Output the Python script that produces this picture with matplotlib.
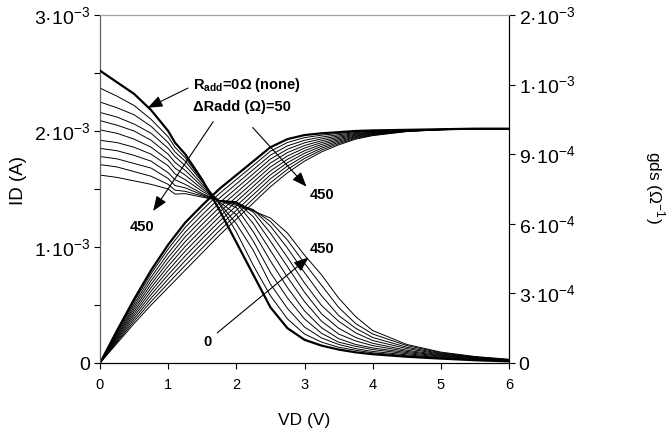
"""
ID and gds versus VD for increasing added series resistance.
"""

import matplotlib
matplotlib.use('Agg')
import matplotlib.pyplot as plt

plt.rcParams['font.family'] = ['Liberation Sans', 'DejaVu Sans']
plt.rcParams['mathtext.fontset'] = 'custom'
plt.rcParams['mathtext.rm'] = 'Liberation Sans'
plt.rcParams['mathtext.bf'] = 'Liberation Sans:bold'

# Drain voltage grid (V) for the ID curves
vd = [0, 0.25, 0.5, 0.75, 1.0, 1.25, 1.5, 1.75, 2.0, 2.25, 2.5, 2.75,
      3.0, 3.25, 3.5, 3.75, 4.0, 4.5, 5.0, 5.5, 6.0]
# gds curves have an extra point at 1.1 V (small kink in the data)
vd_gds = [0, 0.25, 0.5, 0.75, 1.0, 1.1, 1.25, 1.5, 1.75, 2.0, 2.25, 2.5, 2.75,
          3.0, 3.25, 3.5, 3.75, 4.0, 4.5, 5.0, 5.5, 6.0]

# Added resistance (Ohm), 0 = none (thick curve)
radd = [0, 50, 100, 150, 200, 250, 300, 350, 400, 450, 500]

# Drain current ID (mA), one list per Radd
id_r0 = [0, 0.28, 0.55, 0.80, 1.02, 1.21, 1.36, 1.50, 1.62, 1.74, 1.86, 1.93, 1.965, 1.98, 1.99, 2.0, 2.005, 2.01, 2.015, 2.02, 2.02]
id_r50 = [0, 0.269, 0.529, 0.77, 0.983, 1.169, 1.319, 1.46, 1.582, 1.704, 1.826, 1.901, 1.943, 1.964, 1.979, 1.993, 2.0, 2.008, 2.015, 2.02, 2.02]
id_r100 = [0, 0.258, 0.508, 0.74, 0.946, 1.128, 1.278, 1.42, 1.544, 1.668, 1.792, 1.872, 1.92, 1.948, 1.968, 1.986, 1.996, 2.007, 2.014, 2.02, 2.02]
id_r150 = [0, 0.247, 0.487, 0.71, 0.909, 1.087, 1.237, 1.38, 1.506, 1.632, 1.758, 1.843, 1.898, 1.932, 1.957, 1.979, 1.991, 2.005, 2.014, 2.019, 2.02]
id_r200 = [0, 0.236, 0.466, 0.68, 0.872, 1.046, 1.196, 1.34, 1.468, 1.596, 1.724, 1.814, 1.875, 1.916, 1.946, 1.972, 1.987, 2.004, 2.013, 2.019, 2.02]
id_r250 = [0, 0.225, 0.445, 0.65, 0.835, 1.005, 1.155, 1.30, 1.43, 1.56, 1.69, 1.785, 1.853, 1.90, 1.935, 1.965, 1.983, 2.003, 2.013, 2.019, 2.02]
id_r300 = [0, 0.214, 0.424, 0.62, 0.798, 0.964, 1.114, 1.26, 1.392, 1.524, 1.656, 1.756, 1.83, 1.884, 1.924, 1.958, 1.978, 2.001, 2.012, 2.018, 2.02]
id_r350 = [0, 0.203, 0.403, 0.59, 0.761, 0.923, 1.073, 1.22, 1.354, 1.488, 1.622, 1.727, 1.808, 1.868, 1.913, 1.951, 1.974, 2.0, 2.012, 2.018, 2.02]
id_r400 = [0, 0.192, 0.382, 0.56, 0.724, 0.882, 1.032, 1.18, 1.316, 1.452, 1.588, 1.698, 1.785, 1.852, 1.902, 1.944, 1.969, 1.998, 2.011, 2.018, 2.02]
id_r450 = [0, 0.181, 0.361, 0.53, 0.687, 0.841, 0.991, 1.14, 1.278, 1.416, 1.554, 1.669, 1.763, 1.836, 1.891, 1.937, 1.965, 1.997, 2.011, 2.018, 2.02]
id_r500 = [0, 0.17, 0.34, 0.50, 0.65, 0.80, 0.95, 1.10, 1.24, 1.38, 1.52, 1.64, 1.74, 1.82, 1.88, 1.93, 1.96, 1.995, 2.01, 2.018, 2.02]

# Output conductance gds (mS), one list per Radd
gds_r0 = [1.26, 1.21, 1.16, 1.09, 1.00, 0.95, 0.90, 0.79, 0.66, 0.52, 0.38, 0.24, 0.15, 0.10, 0.075, 0.058, 0.046, 0.038, 0.027, 0.019, 0.012, 0.007]
gds_r50 = [1.185, 1.15, 1.11, 1.05, 0.975, 0.93, 0.885, 0.785, 0.685, 0.565, 0.42, 0.29, 0.19, 0.125, 0.09, 0.068, 0.055, 0.044, 0.031, 0.021, 0.013, 0.008]
gds_r100 = [1.125, 1.10, 1.07, 1.02, 0.95, 0.91, 0.87, 0.78, 0.69, 0.60, 0.485, 0.34, 0.235, 0.155, 0.108, 0.08, 0.062, 0.05, 0.035, 0.023, 0.014, 0.008]
gds_r150 = [1.08, 1.06, 1.03, 0.99, 0.925, 0.89, 0.85, 0.77, 0.695, 0.64, 0.525, 0.39, 0.28, 0.19, 0.128, 0.09, 0.072, 0.058, 0.04, 0.026, 0.016, 0.009]
gds_r200 = [1.045, 1.025, 1.0, 0.96, 0.90, 0.865, 0.83, 0.76, 0.70, 0.67, 0.565, 0.44, 0.325, 0.225, 0.152, 0.105, 0.08, 0.065, 0.045, 0.029, 0.018, 0.01]
gds_r250 = [1.005, 0.99, 0.965, 0.93, 0.875, 0.84, 0.81, 0.75, 0.70, 0.69, 0.60, 0.485, 0.37, 0.265, 0.18, 0.125, 0.095, 0.075, 0.05, 0.032, 0.02, 0.011]
gds_r300 = [0.96, 0.95, 0.93, 0.90, 0.85, 0.815, 0.79, 0.74, 0.70, 0.695, 0.63, 0.525, 0.415, 0.305, 0.212, 0.15, 0.11, 0.085, 0.055, 0.035, 0.021, 0.012]
gds_r350 = [0.925, 0.915, 0.895, 0.87, 0.82, 0.79, 0.77, 0.73, 0.70, 0.695, 0.65, 0.56, 0.455, 0.345, 0.248, 0.18, 0.13, 0.097, 0.062, 0.038, 0.023, 0.013]
gds_r400 = [0.89, 0.88, 0.86, 0.84, 0.795, 0.765, 0.755, 0.725, 0.70, 0.69, 0.66, 0.59, 0.495, 0.39, 0.29, 0.205, 0.15, 0.11, 0.068, 0.041, 0.024, 0.014]
gds_r450 = [0.855, 0.845, 0.825, 0.805, 0.77, 0.745, 0.74, 0.72, 0.70, 0.685, 0.66, 0.61, 0.53, 0.43, 0.335, 0.24, 0.17, 0.125, 0.075, 0.044, 0.026, 0.015]
gds_r500 = [0.81, 0.80, 0.785, 0.77, 0.75, 0.728, 0.73, 0.715, 0.70, 0.68, 0.655, 0.625, 0.56, 0.465, 0.38, 0.28, 0.20, 0.14, 0.08, 0.047, 0.028, 0.016]

id_curves = [id_r0, id_r50, id_r100, id_r150, id_r200, id_r250,
             id_r300, id_r350, id_r400, id_r450, id_r500]
gds_curves = [gds_r0, gds_r50, gds_r100, gds_r150, gds_r200, gds_r250,
              gds_r300, gds_r350, gds_r400, gds_r450, gds_r500]

# Axis tick labels (Excel-style rounding on the right axis)
left_ticks = [0, 0.5e-3, 1e-3, 1.5e-3, 2e-3, 2.5e-3, 3e-3]
left_labels = ['0', '', r'$\mathregular{1·10^{-3}}$', '', r'$\mathregular{2·10^{-3}}$',
               '', r'$\mathregular{3·10^{-3}}$']
right_ticks = [0, 3e-4, 6e-4, 9e-4, 1.2e-3, 1.5e-3]
right_labels = ['0', r'$\mathregular{3·10^{-4}}$', r'$\mathregular{6·10^{-4}}$',
                r'$\mathregular{9·10^{-4}}$', r'$\mathregular{1·10^{-3}}$',
                r'$\mathregular{2·10^{-3}}$']

fig = plt.figure(figsize=(6.72, 4.33), dpi=100)
ax1 = fig.add_axes([100 / 672, 70 / 433, 409 / 672, 348 / 433])
ax2 = ax1.twinx()

for r, cur in zip(radd, id_curves):
    lw = 1.6 if r == 0 else 0.7
    ax1.plot(vd, [v * 1e-3 for v in cur], color='black', linewidth=lw, zorder=3 if r == 0 else 2)

for r, cur in zip(radd, gds_curves):
    lw = 1.6 if r == 0 else 0.7
    ax2.plot(vd_gds, [v * 1e-3 for v in cur], color='black', linewidth=lw, zorder=3 if r == 0 else 2)

ax1.set_xlim(0, 6)
ax1.set_ylim(0, 3e-3)
ax2.set_ylim(0, 1.5e-3)

ax1.set_xticks(range(7))
ax1.set_xticklabels([str(t) for t in range(7)], fontsize=10.5)
ax1.set_yticks(left_ticks)
ax1.set_yticklabels(left_labels, fontsize=14)
ax2.set_yticks(right_ticks)
ax2.set_yticklabels(right_labels, fontsize=14)

ax1.tick_params(axis='x', direction='out', length=4, width=0.8, pad=7)
ax1.tick_params(axis='y', direction='out', length=4, width=0.8, pad=3)
ax2.tick_params(axis='y', direction='out', length=4, width=0.8, pad=3)

for ax in (ax1, ax2):
    ax.spines['top'].set_color('#a0a0a0')
    ax.spines['left'].set_color('#606060')
    ax.spines['right'].set_color('black')
    ax.spines['bottom'].set_color('black')
    for s in ax.spines.values():
        s.set_linewidth(0.8)

ax1.set_xlabel('VD (V)', fontsize=12.5, va='center')
ax1.xaxis.set_label_coords(0.5, -0.164)
ax1.set_ylabel('ID (A)', fontsize=13.5, va='center')
ax1.yaxis.set_label_coords(-0.2, 0.525)
ax2.set_ylabel(r'gds (Ω$^{\mathregular{-1}}$)', fontsize=12.5, rotation=270, va='center')
ax2.yaxis.set_label_coords(1.357, 0.505)

# Annotations
bold = dict(fontsize=10.5, fontweight='bold', color='black')
arrow = dict(arrowstyle='-|>,head_length=0.9,head_width=0.35', color='black',
             lw=0.8, shrinkA=0, shrinkB=0)

ax1.text(1.36, 2.40e-3, r'$\mathbf{R}_{\mathbf{add}}$=0Ω (none)', va='center', ha='left', **bold)
ax1.text(1.36, 2.21e-3, 'ΔRadd (Ω)=50', va='center', ha='left', **bold)
ax1.annotate('', xy=(0.70, 2.20e-3), xytext=(1.29, 2.37e-3), arrowprops=arrow)
ax1.annotate('', xy=(0.78, 1.31e-3), xytext=(1.66, 2.08e-3), arrowprops=arrow)
ax1.text(0.62, 1.17e-3, '450', ha='center', va='center', **bold)
ax1.annotate('', xy=(3.03, 1.52e-3), xytext=(2.24, 2.03e-3), arrowprops=arrow)
ax1.text(3.07, 1.45e-3, '450', ha='left', va='center', **bold)
ax1.annotate('', xy=(3.06, 0.91e-3), xytext=(1.72, 0.26e-3), arrowprops=arrow)
ax1.text(3.07, 0.98e-3, '450', ha='left', va='center', **bold)
ax1.text(1.57, 0.18e-3, '0', ha='center', va='center', **bold)

plt.savefig('out.png', dpi=100)
plt.close()
